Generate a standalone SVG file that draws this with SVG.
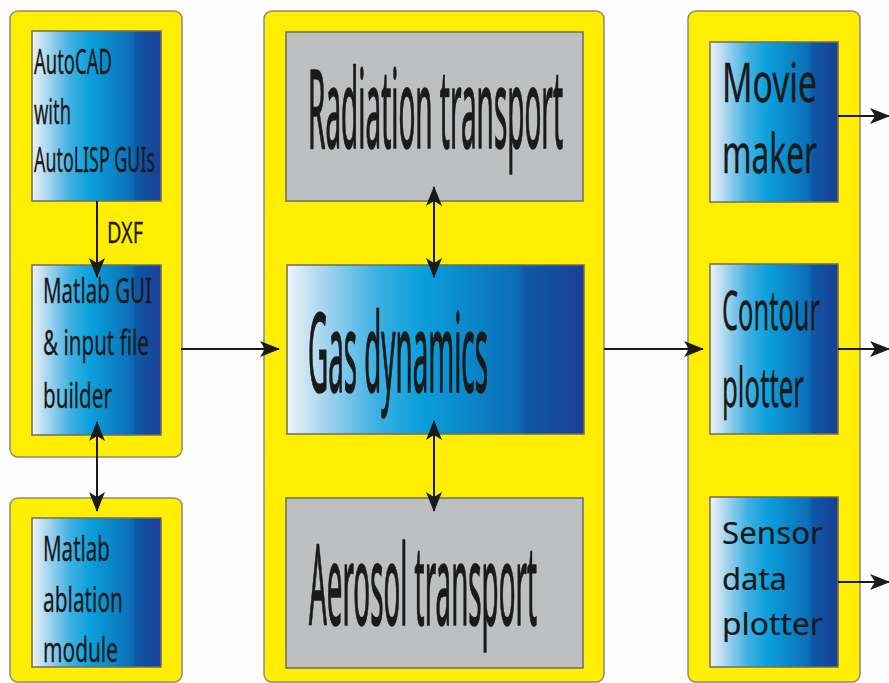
<svg xmlns="http://www.w3.org/2000/svg" width="889" height="683" viewBox="0 0 889 683">
  <defs>
    <linearGradient id="blueFill" x1="0" y1="0" x2="1" y2="0">
      <stop offset="0" stop-color="#eef4f9"/>
      <stop offset="0.12" stop-color="#a9d6ef"/>
      <stop offset="0.3" stop-color="#3db0e2"/>
      <stop offset="0.45" stop-color="#0ba0dc"/>
      <stop offset="0.62" stop-color="#0a86c8"/>
      <stop offset="0.78" stop-color="#0d6bb6"/>
      <stop offset="0.8" stop-color="#0d58a6"/>
      <stop offset="1" stop-color="#1b3f95"/>
    </linearGradient>
    <marker id="head" viewBox="0 0 20 16" refX="19" refY="8" markerWidth="20" markerHeight="16" orient="auto-start-reverse" markerUnits="userSpaceOnUse">
      <path d="M0,0 L20,8 L0,16 L5,8 Z" fill="#1a1a1a"/>
    </marker>
  </defs>
  <style>
    .panel { fill: #ffee00; stroke: #8c8c74; stroke-width: 1.5; }
    .blue { fill: url(#blueFill); stroke: #6e6e60; stroke-width: 1.5; }
    .grey { fill: #bdbfc1; stroke: #6e6e60; stroke-width: 1.5; }
    .lbl { font-family: "Noto Sans", "Liberation Sans", Arial, sans-serif; fill: #1a1a1a; stroke: #1a1a1a; }
    .big { font-size: 40px; stroke-width: 0.6; }
    .mid { font-size: 30px; stroke-width: 0.2; }
    .sm { font-size: 22px; stroke-width: 0.2; }
    .wide { font-size: 30px; stroke-width: 0.2; }
    .wire { fill: none; stroke: #1a1a1a; stroke-width: 2; }
  </style>

  <rect x="0" y="0" width="889" height="683" fill="#fdfdfd"/>

  <!-- column backgrounds -->
  <rect class="panel" x="10" y="11" width="172" height="446" rx="8"/>
  <rect class="panel" x="10" y="498" width="172" height="184" rx="8"/>
  <rect class="panel" x="264" y="11" width="340" height="671" rx="8"/>
  <rect class="panel" x="688" y="11" width="172" height="671" rx="8"/>

  <g id="autocad">
    <rect class="blue" x="32" y="31" width="129" height="170"/>
    <text class="lbl sm" transform="translate(34,74) scale(1,1.55)" textLength="78" lengthAdjust="spacingAndGlyphs">AutoCAD</text>
    <text class="lbl sm" transform="translate(34,124) scale(1,1.55)" textLength="37" lengthAdjust="spacingAndGlyphs">with</text>
    <text class="lbl sm" transform="translate(34,172) scale(1,1.55)" textLength="121" lengthAdjust="spacingAndGlyphs">AutoLISP GUIs</text>
  </g>

  <g id="matlab-gui">
    <rect class="blue" x="32" y="265" width="129" height="170"/>
    <text class="lbl sm" transform="translate(43,303) scale(1,1.55)" textLength="109" lengthAdjust="spacingAndGlyphs">Matlab GUI</text>
    <text class="lbl sm" transform="translate(43,355) scale(1,1.55)" textLength="106" lengthAdjust="spacingAndGlyphs">&amp; input file</text>
    <text class="lbl sm" transform="translate(43,408) scale(1,1.55)" textLength="69" lengthAdjust="spacingAndGlyphs">builder</text>
  </g>

  <g id="ablation">
    <rect class="blue" x="32" y="518" width="129" height="149"/>
    <text class="lbl sm" transform="translate(43,561) scale(1,1.55)" textLength="67" lengthAdjust="spacingAndGlyphs">Matlab</text>
    <text class="lbl sm" transform="translate(43,612) scale(1,1.55)" textLength="80" lengthAdjust="spacingAndGlyphs">ablation</text>
    <text class="lbl sm" transform="translate(43,662) scale(1,1.55)" textLength="75" lengthAdjust="spacingAndGlyphs">module</text>
  </g>

  <g id="radiation">
    <rect class="grey" x="286" y="32" width="297" height="169"/>
    <text class="lbl big" transform="translate(308,148) scale(1,2.75)" textLength="255" lengthAdjust="spacingAndGlyphs">Radiation transport</text>
  </g>

  <g id="gas-dynamics">
    <rect class="blue" x="287" y="265" width="297" height="169"/>
    <text class="lbl big" transform="translate(308,392) scale(1,2.75)" textLength="180" lengthAdjust="spacingAndGlyphs">Gas dynamics</text>
  </g>

  <g id="aerosol">
    <rect class="grey" x="286" y="498" width="297" height="170"/>
    <text class="lbl big" transform="translate(309,625) scale(1,2.8)" textLength="228" lengthAdjust="spacingAndGlyphs">Aerosol transport</text>
  </g>

  <g id="movie">
    <rect class="blue" x="710" y="42" width="128" height="160"/>
    <text class="lbl mid" transform="translate(722,102) scale(1,1.85)" textLength="95" lengthAdjust="spacingAndGlyphs">Movie</text>
    <text class="lbl mid" transform="translate(722,173) scale(1,1.85)" textLength="95" lengthAdjust="spacingAndGlyphs">maker</text>
  </g>

  <g id="contour">
    <rect class="blue" x="710" y="264" width="128" height="170"/>
    <text class="lbl mid" transform="translate(722,330) scale(1,1.85)" textLength="98" lengthAdjust="spacingAndGlyphs">Contour</text>
    <text class="lbl mid" transform="translate(722,407) scale(1,1.85)" textLength="82" lengthAdjust="spacingAndGlyphs">plotter</text>
  </g>

  <g id="sensor">
    <rect class="blue" x="710" y="497" width="128" height="170"/>
    <text class="lbl wide" x="722" y="544" textLength="101" lengthAdjust="spacingAndGlyphs">Sensor</text>
    <text class="lbl wide" x="722" y="590" textLength="65" lengthAdjust="spacingAndGlyphs">data</text>
    <text class="lbl wide" x="722" y="635" textLength="101" lengthAdjust="spacingAndGlyphs">plotter</text>
  </g>

  <g id="connectors">
    <line class="wire" x1="97" y1="201" x2="97" y2="277" marker-end="url(#head)"/>
    <text class="lbl sm" transform="translate(107,243) scale(1,1.35)" textLength="36" lengthAdjust="spacingAndGlyphs">DXF</text>
    <line class="wire" x1="97" y1="422" x2="97" y2="511" marker-start="url(#head)" marker-end="url(#head)"/>
    <line class="wire" x1="181" y1="349" x2="279" y2="349" marker-end="url(#head)"/>
    <line class="wire" x1="434" y1="187" x2="434" y2="277" marker-start="url(#head)" marker-end="url(#head)"/>
    <line class="wire" x1="434" y1="421" x2="434" y2="511" marker-start="url(#head)" marker-end="url(#head)"/>
    <line class="wire" x1="604" y1="349" x2="703" y2="349" marker-end="url(#head)"/>
    <line class="wire" x1="838" y1="116" x2="889" y2="116" marker-end="url(#head)"/>
    <line class="wire" x1="838" y1="349" x2="889" y2="349" marker-end="url(#head)"/>
    <line class="wire" x1="838" y1="582" x2="889" y2="582" marker-end="url(#head)"/>
  </g>
</svg>
